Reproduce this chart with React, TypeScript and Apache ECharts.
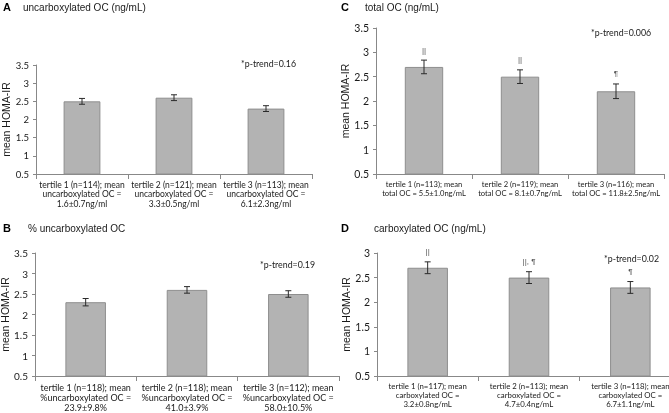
import React, { useEffect, useRef } from "react";
import * as echarts from "echarts";

// ---------- data ----------
const catsA = [
  "tertile 1 (n=114); mean\nuncarboxylated OC =\n1.6±0.7ng/ml",
  "tertile 2 (n=121); mean\nuncarboxylated OC =\n3.3±0.5ng/ml",
  "tertile 3 (n=113); mean\nuncarboxylated OC =\n6.1±2.3ng/ml",
];
const valsA = [2.5, 2.6, 2.3];
const errA = [0.08, 0.08, 0.08];
const symsA = ["", "", ""];

const catsB = [
  "tertile 1 (n=118); mean\n%uncarboxylated OC =\n23.9±9.8%",
  "tertile 2 (n=118); mean\n%uncarboxylated OC =\n41.0±3.9%",
  "tertile 3 (n=112); mean\n%uncarboxylated OC =\n58.0±10.5%",
];
const valsB = [2.3, 2.6, 2.5];
const errB = [0.09, 0.08, 0.08];
const symsB = ["", "", ""];

const catsC = [
  "tertile 1 (n=113); mean\ntotal OC = 5.5±1.0ng/mL",
  "tertile 2 (n=119); mean\ntotal OC = 8.1±0.7ng/mL",
  "tertile 3 (n=116); mean\ntotal OC = 11.8±2.5ng/mL",
];
const valsC = [2.7, 2.5, 2.2];
const errC = [0.14, 0.14, 0.15];
const symsC = ["||", "||", "¶"];

const catsD = [
  "tertile 1 (n=117); mean\ncarboxylated OC =\n3.2±0.8ng/mL",
  "tertile 2 (n=113); mean\ncarboxylated OC =\n4.7±0.4ng/mL",
  "tertile 3 (n=118); mean\ncarboxylated OC =\n6.7±1.1ng/mL",
];
const valsD = [2.7, 2.5, 2.3];
const errD = [0.12, 0.12, 0.12];
const symsD = ["||", "||, ¶", "¶"];

const yMinAll = 0.5;
const yMaxABC = 3.5;
const yMaxD = 3;
const yStep = 0.5;

const letters = ["A", "B", "C", "D"];
const titles = [
  "uncarboxylated OC (ng/mL)",
  "% uncarboxylated OC",
  "total OC (ng/mL)",
  "carboxylated OC (ng/mL)",
];
const pTrends = ["*p-trend=0.16", "*p-trend=0.19", "*p-trend=0.006", "*p-trend=0.02"];
const yName = "mean HOMA-IR";

// ---------- layout / style ----------
const grids = [
  { left: 36, top: 65, width: 276, height: 109 },
  { left: 35, top: 253, width: 304, height: 123 },
  { left: 376, top: 28, width: 288, height: 146 },
  { left: 377, top: 253, width: 304, height: 123 },
];
const letterPos = [
  { x: 3, y: 7 },
  { x: 3, y: 228 },
  { x: 341, y: 7 },
  { x: 341, y: 228 },
];
const titlePos = [
  { x: 23, y: 7 },
  { x: 28, y: 228 },
  { x: 365, y: 7 },
  { x: 374, y: 228 },
];
const pPos = [
  { x: 241, y: 63 },
  { x: 260, y: 264 },
  { x: 591, y: 32 },
  { x: 604, y: 258 },
];
const xLabelSize = [8.5, 9, 7.6, 7.8];
const yLabelSize = [9.5, 10, 10.5, 10.5];

const calibri = "Lato, 'Open Sans', sans-serif";
const arial = "'Liberation Sans', Arial, sans-serif";
const textColor = "#1a1a1a";
const axisColor = "#888888";

const panels = [
  { cats: catsA, vals: valsA, err: errA, syms: symsA, max: yMaxABC },
  { cats: catsB, vals: valsB, err: errB, syms: symsB, max: yMaxABC },
  { cats: catsC, vals: valsC, err: errC, syms: symsC, max: yMaxABC },
  { cats: catsD, vals: valsD, err: errD, syms: symsD, max: yMaxD },
];

export default function App() {
  const ref = useRef<HTMLDivElement>(null);
  useEffect(() => {
    if (!ref.current) return;
    const chart = echarts.init(ref.current, null, { renderer: "svg" });

    const xAxis: any[] = [];
    const yAxis: any[] = [];
    const series: any[] = [];
    const graphic: any[] = [];

    panels.forEach((p, i) => {
      xAxis.push({
        type: "category",
        gridIndex: i,
        data: p.cats,
        axisLine: { show: true, lineStyle: { color: axisColor, width: 1 } },
        axisTick: { show: true, length: 5, alignWithLabel: false, lineStyle: { color: axisColor } },
        axisLabel: {
          interval: 0,
          margin: 6,
          color: textColor,
          fontFamily: calibri,
          fontSize: xLabelSize[i],
          lineHeight: xLabelSize[i] + 1,
          align: "center",
        },
        splitLine: { show: false },
      });
      yAxis.push({
        type: "value",
        gridIndex: i,
        min: yMinAll,
        max: p.max,
        interval: yStep,
        name: yName,
        nameLocation: "middle",
        nameGap: 24,
        nameRotate: 90,
        nameTextStyle: { fontFamily: arial, fontSize: 10.5, color: textColor },
        axisLine: { show: true, lineStyle: { color: axisColor, width: 1 } },
        axisTick: { show: true, length: 3, lineStyle: { color: axisColor } },
        axisLabel: { margin: 7, color: textColor, fontFamily: calibri, fontSize: yLabelSize[i] },
        splitLine: { show: false },
      });
      series.push({
        type: "bar",
        xAxisIndex: i,
        yAxisIndex: i,
        data: p.vals,
        barWidth: "40%",
        itemStyle: { color: "#b3b3b3", borderColor: "#8e8e8e", borderWidth: 1 },
        silent: true,
      });
      const syms = p.syms;
      series.push({
        type: "custom",
        xAxisIndex: i,
        yAxisIndex: i,
        z: 5,
        silent: true,
        encode: { x: 0, y: [1, 2] },
        data: p.vals.map((v, k) => [k, v - p.err[k], v + p.err[k]]),
        renderItem: (params: any, api: any) => {
          const idx = api.value(0);
          const lo = api.coord([idx, api.value(1)]);
          const hi = api.coord([idx, api.value(2)]);
          const hw = 3;
          const style = { stroke: "#2a2a2a", lineWidth: 1 };
          const children: any[] = [
            { type: "line", shape: { x1: lo[0], y1: lo[1], x2: hi[0], y2: hi[1] }, style },
            { type: "line", shape: { x1: lo[0] - hw, y1: lo[1], x2: lo[0] + hw, y2: lo[1] }, style },
            { type: "line", shape: { x1: hi[0] - hw, y1: hi[1], x2: hi[0] + hw, y2: hi[1] }, style },
          ];
          const s = syms[params.dataIndex];
          if (s) {
            children.push({
              type: "text",
              x: hi[0],
              y: hi[1] - 10,
              style: {
                text: s,
                fill: "#555555",
                font: `8px ${arial}`,
                align: "center",
                verticalAlign: "middle",
              },
            });
          }
          return { type: "group", children };
        },
      });

      graphic.push({
        type: "text",
        x: letterPos[i].x,
        y: letterPos[i].y,
        style: {
          text: letters[i],
          fill: "#000",
          font: `bold 11px ${arial}`,
          verticalAlign: "middle",
        },
      });
      graphic.push({
        type: "text",
        x: titlePos[i].x,
        y: titlePos[i].y,
        style: {
          text: titles[i],
          fill: textColor,
          font: `10px ${arial}`,
          verticalAlign: "middle",
        },
      });
      graphic.push({
        type: "text",
        x: pPos[i].x,
        y: pPos[i].y,
        style: {
          text: pTrends[i],
          fill: textColor,
          font: `8.8px ${calibri}`,
          verticalAlign: "middle",
        },
      });
    });

    chart.setOption({
      animation: false,
      backgroundColor: "#ffffff",
      grid: grids.map((g) => ({ ...g, containLabel: false, outerBoundsMode: "none" })),
      xAxis,
      yAxis,
      series,
      graphic,
    });
    return () => chart.dispose();
  }, []);

  return (
    <div
      ref={ref}
      style={{
        position: "fixed",
        left: 0,
        top: 0,
        width: 669,
        height: 413,
        background: "#fff",
        filter: "grayscale(1)",
      }}
    />
  );
}
